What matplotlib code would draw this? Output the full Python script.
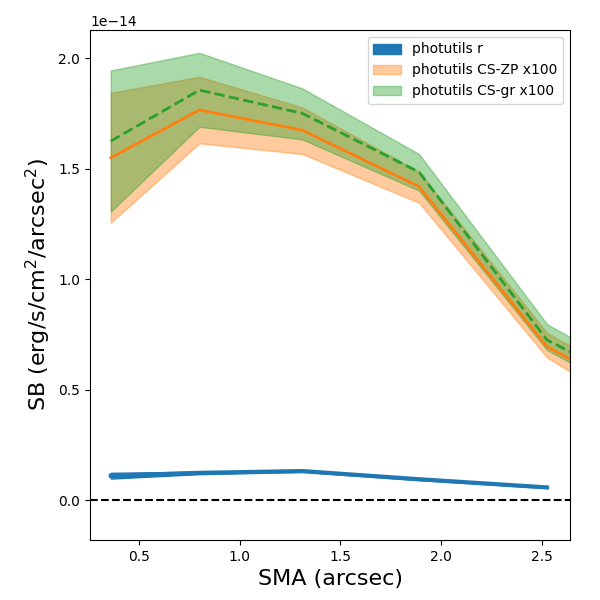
import matplotlib
matplotlib.use('Agg')
import matplotlib.pyplot as plt

# surface brightness profiles (units of 1e-14)
sma_r = [0.36, 0.80, 1.31, 1.89, 2.525]
sb_r = [0.110, 0.123, 0.131, 0.094, 0.057]
sb_r_lo = [0.097, 0.117, 0.127, 0.090, 0.054]
sb_r_hi = [0.123, 0.128, 0.134, 0.097, 0.060]

sma = [0.36, 0.80, 1.31, 1.89, 2.525, 3.2]
sb_zp = [1.549, 1.765, 1.674, 1.418, 0.694, 0.363]
sb_zp_lo = [1.255, 1.614, 1.566, 1.345, 0.645, 0.265]
sb_zp_hi = [1.843, 1.915, 1.777, 1.486, 0.756, 0.42]

sb_gr = [1.624, 1.855, 1.750, 1.484, 0.724, 0.413]
sb_gr_lo = [1.305, 1.689, 1.632, 1.400, 0.679, 0.34]
sb_gr_hi = [1.944, 2.024, 1.863, 1.566, 0.796, 0.452]

scale = 1e-14

def sc(v):
    return [a * scale for a in v]

fig = plt.figure(figsize=(6, 6), dpi=100)
ax = fig.add_axes([0.15, 0.10, 0.80, 0.85])

ax.fill_between(sma_r, sc(sb_r_lo), sc(sb_r_hi), color='C0', label='photutils r')
ax.plot(sma_r, sc(sb_r), color='C0', lw=3)

ax.fill_between(sma, sc(sb_zp_lo), sc(sb_zp_hi), color='C1', alpha=0.4, label='photutils CS-ZP x100')
ax.plot(sma, sc(sb_zp), color='C1', lw=2)

ax.fill_between(sma, sc(sb_gr_lo), sc(sb_gr_hi), color='C2', alpha=0.4, label='photutils CS-gr x100')
ax.plot(sma, sc(sb_gr), color='C2', lw=2, linestyle='--')

ax.axhline(0, color='k', linestyle='--', lw=1.5)

ax.set_xlim(0.257, 2.639)
ax.set_ylim(-0.181e-14, 2.127e-14)
ax.set_xlabel('SMA (arcsec)', fontsize=16)
ax.set_ylabel('SB (erg/s/cm$^2$/arcsec$^2$)', fontsize=16)
ax.legend(loc='upper right')

plt.savefig('out.png')
